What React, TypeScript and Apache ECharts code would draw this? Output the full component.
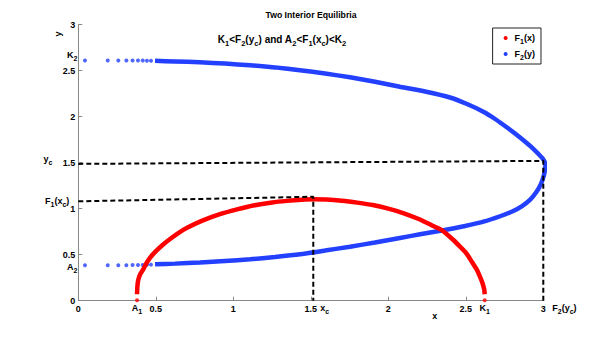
import React, { useEffect, useRef } from "react";
import * as echarts from "echarts";

// ---- data ----
const xTickInterval = 0.5;
const axisMin = 0;
const axisMax = 3;

const A1 = 0.379;
const K1 = 2.622;
const xc = 1.516;
const F2yc = 3.0;
const A2 = 0.387;
const K2 = 2.612;
const yc = 1.5;
const F1xc = 1.08;

const redCurve: number[][] = [
  [0.379, 0.07], [0.381, 0.15], [0.386, 0.22], [0.4, 0.29], [0.419, 0.34], [0.437, 0.4],
  [0.46, 0.46], [0.49, 0.52], [0.54, 0.6], [0.592, 0.67], [0.65, 0.74], [0.699, 0.79],
  [0.8, 0.87], [0.914, 0.94], [1.03, 0.995], [1.129, 1.035], [1.25, 1.068], [1.345, 1.085],
  [1.44, 1.097], [1.516, 1.102], [1.6, 1.1], [1.7, 1.087], [1.8, 1.066], [1.9, 1.04],
  [2.0, 1.0], [2.1, 0.95], [2.2, 0.885], [2.28, 0.82], [2.345, 0.768], [2.42, 0.66],
  [2.47, 0.575], [2.506, 0.51], [2.54, 0.42], [2.57, 0.34], [2.592, 0.26], [2.608, 0.19],
  [2.619, 0.12], [2.622, 0.07],
];
const redEndDots: number[][] = [[A1, 0.005], [K1, 0.005]];

const blueCurve: number[][] = [
  [0.495, 0.396], [0.624, 0.403], [0.785, 0.415], [0.946, 0.432], [1.108, 0.45],
  [1.269, 0.475], [1.43, 0.504], [1.592, 0.545], [1.753, 0.587], [1.914, 0.632],
  [2.075, 0.682], [2.205, 0.722], [2.355, 0.765], [2.495, 0.812], [2.62, 0.862],
  [2.721, 0.918], [2.806, 0.975], [2.863, 1.029], [2.914, 1.095], [2.953, 1.176],
  [2.982, 1.258], [3.001, 1.345], [3.011, 1.421], [3.014, 1.486], [2.998, 1.54],
  [2.972, 1.589], [2.934, 1.654], [2.893, 1.714], [2.83, 1.801], [2.764, 1.885],
  [2.689, 1.975], [2.613, 2.054], [2.508, 2.138], [2.398, 2.209], [2.237, 2.274],
  [2.075, 2.326], [1.914, 2.379], [1.753, 2.428], [1.592, 2.47], [1.43, 2.505],
  [1.269, 2.536], [1.108, 2.559], [0.946, 2.577], [0.785, 2.591], [0.624, 2.601],
  [0.495, 2.607],
];
const blueDotX = [0.043, 0.19, 0.258, 0.31, 0.35, 0.385, 0.416, 0.443, 0.469];
const blueDotYLow = [0.385, 0.385, 0.386, 0.386, 0.387, 0.388, 0.389, 0.39, 0.392];
const blueDotYHigh = [2.612, 2.612, 2.612, 2.611, 2.611, 2.61, 2.61, 2.609, 2.608];

const ycGuide: number[][] = [[0, 1.487], [F2yc, 1.52], [F2yc, 0]];
const f1Guide: number[][] = [[0, F1xc], [xc, 1.13], [xc, 0]];

const titleText = "Two Interior Equilibria";
const subtitleText = "K_1<F_2(y_c) and A_2<F_1(x_c)<K_2";
const seriesNames = ["F_1(x)", "F_2(y)"];

const RED = "#ff0000";
const BLUE = "#2340ff";
const FONT = "Liberation Sans, Arial, Helvetica, sans-serif";

// convert "K_1" style into rich-text tokens
function toRich(s: string): string {
  let out = "";
  let buf = "";
  for (let i = 0; i < s.length; i++) {
    if (s[i] === "_" && i + 1 < s.length) {
      if (buf) out += "{n|" + buf + "}";
      buf = "";
      out += "{s|" + s[i + 1] + "}";
      i++;
    } else buf += s[i];
  }
  if (buf) out += "{n|" + buf + "}";
  return out;
}

const rich = {
  n: { fontSize: 9, fontWeight: "bold", fontFamily: FONT, color: "#000", lineHeight: 11 },
  s: { fontSize: 7, fontWeight: "bold", fontFamily: FONT, color: "#000", lineHeight: 7, padding: [7, 0, 0, 0] },
};
const richBig = {
  n: { fontSize: 10, fontWeight: "bold", fontFamily: FONT, color: "#000", lineHeight: 12 },
  s: { fontSize: 7.5, fontWeight: "bold", fontFamily: FONT, color: "#000", lineHeight: 8, padding: [8, 0, 0, 0] },
};

export default function App() {
  const ref = useRef<HTMLDivElement>(null);
  useEffect(() => {
    document.body.style.margin = "0";
    if (!ref.current) return;
    const chart = echarts.init(ref.current, null, { renderer: "svg" });
    const axisCommon = {
      type: "value" as const,
      min: axisMin,
      max: axisMax,
      interval: xTickInterval,
      axisLine: { show: true, lineStyle: { color: "#888", width: 1 } },
      axisTick: { show: true, inside: true, length: 4, lineStyle: { color: "#888" } },
      splitLine: { show: false },
      axisLabel: { color: "#000", fontSize: 9, fontWeight: "bold" as const, fontFamily: FONT },
    };
    chart.setOption({
      animation: false,
      backgroundColor: "#fff",
      title: [
        {
          text: titleText,
          left: 311,
          top: 10,
          padding: 0,
          textAlign: "center",
          textStyle: { fontSize: 8.7, fontWeight: "bold", fontFamily: FONT, color: "#000" },
        },
        {
          text: toRich(subtitleText),
          left: 282,
          top: 33,
          padding: 0,
          textAlign: "center",
          textStyle: { rich: richBig },
        },
      ],
      legend: {
        orient: "vertical",
        right: 60,
        top: 28,
        padding: [3, 6, 3, 11],
        itemWidth: 8,
        itemHeight: 4,
        itemGap: 2,
        borderColor: "#222",
        borderWidth: 1,
        data: [
          { name: seriesNames[0], icon: "circle" },
          { name: seriesNames[1], icon: "circle" },
        ],
        formatter: (name: string) => toRich(name),
        textStyle: { rich },
      },
      grid: { left: 78.3, right: 57.7, top: 24.7, bottom: 37.3, containLabel: false },
      xAxis: { ...axisCommon, axisLabel: { ...axisCommon.axisLabel, margin: 4 } },
      yAxis: { ...axisCommon, axisLabel: { ...axisCommon.axisLabel, margin: 3 } },
      series: [
        {
          type: "line",
          name: seriesNames[1],
          data: blueCurve,
          showSymbol: false,
          smooth: 0.15,
          clip: false,
          lineStyle: { color: BLUE, width: 4.5 },
          itemStyle: { color: BLUE },
          z: 2,
        },
        {
          type: "scatter",
          name: seriesNames[1],
          data: blueDotX.map((x, i) => [x, blueDotYLow[i]]).concat(blueDotX.map((x, i) => [x, blueDotYHigh[i]])),
          symbolSize: 4,
          itemStyle: { color: BLUE },
          z: 2,
        },
        {
          type: "line",
          name: seriesNames[0],
          data: redCurve,
          showSymbol: false,
          smooth: 0.2,
          clip: false,
          lineStyle: { color: RED, width: 4.5 },
          itemStyle: { color: RED },
          z: 3,
        },
        {
          type: "scatter",
          name: seriesNames[0],
          data: redEndDots,
          symbolSize: 4,
          clip: false,
          itemStyle: { color: RED },
          z: 3,
        },
        {
          type: "line",
          name: "ycGuide",
          data: ycGuide,
          showSymbol: false,
          clip: false,
          lineStyle: { color: "#000", width: 2, type: [5, 3] },
          z: 4,
        },
        {
          type: "line",
          name: "f1Guide",
          data: f1Guide,
          showSymbol: false,
          clip: false,
          lineStyle: { color: "#000", width: 2, type: [5, 3] },
          z: 4,
        },
      ],
    });

    const p = (x: number, y: number) => chart.convertToPixel({ gridIndex: 0 }, [x, y]) as number[];
    const origin = p(0, 0);
    const axX = origin[0];
    const axY = origin[1];
    const txt = (text: string, x: number, y: number, align: string, vAlign: string, rotation = 0) => ({
      type: "text",
      x,
      y,
      rotation,
      style: { text: toRich(text), align, verticalAlign: vAlign, rich },
      z: 10,
    });
    chart.setOption({
      graphic: [
        txt("A_1", p(A1, 0)[0], axY + 2, "center", "top"),
        txt("x_c", p(xc, 0)[0] + 7, axY + 2, "left", "top"),
        txt("K_1", p(K1, 0)[0], axY + 2, "center", "top"),
        txt("F_2(y_c)", p(F2yc, 0)[0] + 9, axY + 2, "left", "top"),
        txt("x", p(2.3, 0)[0], axY + 10, "center", "top"),
        txt("y", axX - 20, p(0, 2.9)[1], "center", "middle", Math.PI / 2),
        txt("K_2", axX - 1, p(0, K2)[1] - 5, "right", "middle"),
        txt("y_c", axX - 26, p(0, yc)[1] - 4, "right", "middle"),
        txt("F_1(x_c)", axX - 9, p(0, F1xc)[1] - 0.5, "right", "middle"),
        txt("A_2", axX - 1, p(0, A2)[1] + 2, "right", "middle"),
      ],
    });
    return () => chart.dispose();
  }, []);
  return <div ref={ref} style={{ width: 601, height: 338 }} />;
}
